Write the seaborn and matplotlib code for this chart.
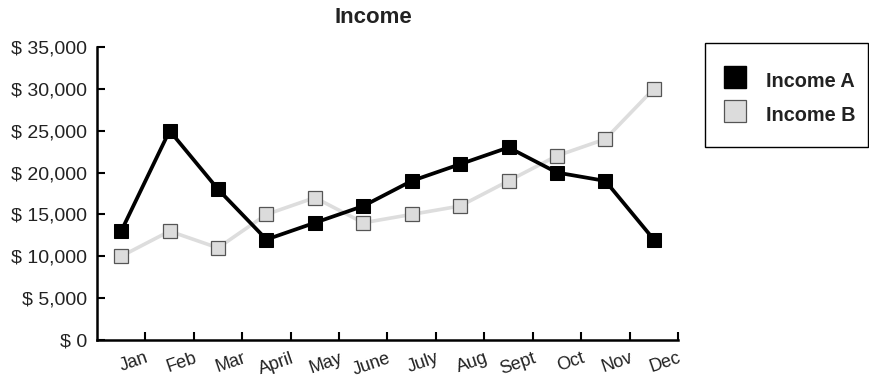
import matplotlib
matplotlib.use("Agg")
import matplotlib.pyplot as plt
from matplotlib.lines import Line2D
from matplotlib.patches import Rectangle
import seaborn as sns
import pandas as pd

months = ["Jan", "Feb", "Mar", "April", "May", "June", "July", "Aug", "Sept", "Oct", "Nov", "Dec"]
income_a = [13000, 25000, 18000, 12000, 14000, 16000, 19000, 21000, 23000, 20000, 19000, 12000]
income_b = [10000, 13000, 11000, 15000, 17000, 14000, 15000, 16000, 19000, 22000, 24000, 30000]
y_ticks = [0, 5000, 10000, 15000, 20000, 25000, 30000, 35000]

sns.set_theme(style="white")
plt.rcParams["font.family"] = ["Liberation Sans", "DejaVu Sans"]

df = pd.DataFrame({"pos": range(len(months)), "A": income_a, "B": income_b})

W, H = 869, 379
fig = plt.figure(figsize=(W / 100, H / 100), dpi=100)
ax = fig.add_axes([0.1116, 0.103, 0.6686, 0.773])

sns.lineplot(data=df, x="pos", y="B", ax=ax, color="#dddddd", linewidth=2.6,
             marker="s", markersize=9.5, markerfacecolor="#dcdcdc",
             markeredgecolor="#555555", markeredgewidth=0.9)
sns.lineplot(data=df, x="pos", y="A", ax=ax, color="black", linewidth=2.7,
             marker="s", markersize=9.5, markerfacecolor="black",
             markeredgecolor="black")

ax.set_xlim(-0.5, len(months) - 0.5)
ax.set_ylim(0, 35000)
ax.set_yticks(y_ticks)
ax.set_yticklabels([f"$ {v:,.0f}" for v in y_ticks], fontsize=14, color="#222222")
ax.set_xticks([i + 0.5 for i in range(len(months))])
ax.set_xticklabels(months, rotation=19, ha="right", rotation_mode="anchor",
                   fontsize=13, color="#222222")
ax.tick_params(axis="both", which="both", direction="in", length=6, width=1.5,
               color="black", left=True, bottom=True)
ax.tick_params(axis="y", pad=7)
ax.tick_params(axis="x", pad=7)
ax.set_xlabel("")
ax.set_ylabel("")
for side in ["top", "right"]:
    ax.spines[side].set_visible(False)
for side in ["left", "bottom"]:
    ax.spines[side].set_color("black")
    ax.spines[side].set_linewidth(1.8)

fig.text(0.430, 0.955, "Income", ha="center", va="center", fontsize=16,
         fontweight="bold", color="#222222")

# legend frame drawn as a figure-level box
fig.patches.append(Rectangle((705 / W, 1 - 147 / H), 163 / W, 104 / H,
                             transform=fig.transFigure, fill=False,
                             edgecolor="black", linewidth=1.0))

handles = [
    Line2D([], [], linestyle="none", marker="s", markersize=16.5,
           markerfacecolor="black", markeredgecolor="black"),
    Line2D([], [], linestyle="none", marker="s", markersize=16.5,
           markerfacecolor="#dcdcdc", markeredgecolor="#555555", markeredgewidth=0.9),
]
leg = fig.legend(handles, ["Income A", "Income B"], loc="upper left",
                 bbox_to_anchor=(723 / W, 1 - 68 / H), frameon=False,
                 borderpad=0, handletextpad=0.95, handlelength=1.2,
                 handleheight=1.5, labelspacing=0.5, borderaxespad=0,
                 prop={"weight": "bold", "size": 14.3})
for t in leg.get_texts():
    t.set_color("#222222")

fig.savefig("out.png", dpi=100, facecolor="white")
